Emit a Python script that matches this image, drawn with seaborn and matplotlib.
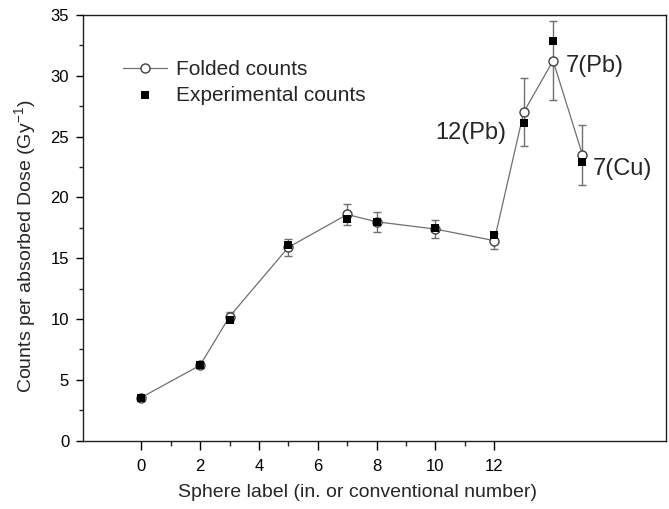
import matplotlib
matplotlib.use("Agg")
import matplotlib.pyplot as plt
import numpy as np
import pandas as pd
import seaborn as sns
from matplotlib.ticker import MultipleLocator, FixedLocator

# ---- data ----
sphere_pos = [0, 2, 3, 5, 7, 8, 10, 12, 13, 14, 15]
folded_counts = [3.55, 6.2, 10.2, 15.9, 18.6, 18.0, 17.4, 16.45, 27.0, 31.25, 23.5]
folded_err = [0.12, 0.2, 0.35, 0.7, 0.85, 0.8, 0.72, 0.65, 2.8, 3.25, 2.45]
experimental_counts = [3.5, 6.2, 9.95, 16.1, 18.2, 17.95, 17.45, 16.9, 26.15, 32.85, 22.95]
xtick_major = [0, 2, 4, 6, 8, 10, 12]
xtick_minor = [1, 3, 5, 7, 9, 11]
annot_labels = ["12(Pb)", "7(Pb)", "7(Cu)"]

df = pd.DataFrame({"x": sphere_pos, "folded": folded_counts,
                   "err": folded_err, "exp": experimental_counts})

sns.set_style("ticks")
plt.rcParams["font.family"] = ["Liberation Sans", "DejaVu Sans"]
plt.rcParams["mathtext.default"] = "regular"

fig = plt.figure(figsize=(6.69, 5.09), dpi=100)
ax = fig.add_axes([0.1241, 0.1342, 0.871, 0.8363])

grey = "#707070"
ax.errorbar(df["x"], df["folded"], yerr=df["err"], fmt="none", ecolor=grey,
            elinewidth=1.0, capsize=2.8, capthick=1.0, zorder=1)
sns.lineplot(data=df, x="x", y="folded", ax=ax, color=grey, lw=0.9,
             marker="o", markersize=6.5, markerfacecolor="white",
             markeredgecolor="#404040", markeredgewidth=1.0,
             label="Folded counts", zorder=2, sort=False)
sns.scatterplot(x=df["x"], y=df["exp"], ax=ax, marker="s", s=36,
                color="black", edgecolor="black", linewidth=0,
                label="Experimental counts", zorder=3)

ax.set_xlim(-1.98, 17.83)
ax.set_ylim(0, 35)
ax.xaxis.set_major_locator(FixedLocator(xtick_major))
ax.xaxis.set_minor_locator(FixedLocator(xtick_minor))
ax.yaxis.set_major_locator(MultipleLocator(5))
ax.yaxis.set_minor_locator(MultipleLocator(2.5))

ax.tick_params(axis="x", which="major", direction="out", length=6.5, width=1,
               pad=6.5, labelsize=12, colors="black")
ax.tick_params(axis="x", which="minor", direction="out", length=3.5, width=1)
ax.tick_params(axis="y", which="major", direction="out", length=5, width=1,
               pad=5, labelsize=12, colors="black")
ax.tick_params(axis="y", which="minor", direction="out", length=3, width=1)
for s in ax.spines.values():
    s.set_visible(True)
    s.set_linewidth(1.0)
    s.set_color("#202020")

ax.set_xlabel("Sphere label (in. or conventional number)", fontsize=14)
ax.set_ylabel("Counts per absorbed Dose (Gy$^{-1}$)", fontsize=14)
ax.xaxis.set_label_coords(0.471, -0.102)
ax.yaxis.set_label_coords(-0.078, 0.456)

ax.text(12.41, 25.3, annot_labels[0], ha="right", va="center", fontsize=17)
ax.text(14.44, 30.8, annot_labels[1], ha="left", va="center", fontsize=17)
ax.text(15.34, 22.3, annot_labels[2], ha="left", va="center", fontsize=17)

leg = ax.legend(loc="center left", bbox_to_anchor=(0.0686, 0.8414), frameon=False,
                fontsize=15, handlelength=2.1, handletextpad=0.45, borderpad=0,
                borderaxespad=0, labelspacing=0.3, numpoints=1, scatterpoints=1)

fig.savefig("out.png", dpi=100)
